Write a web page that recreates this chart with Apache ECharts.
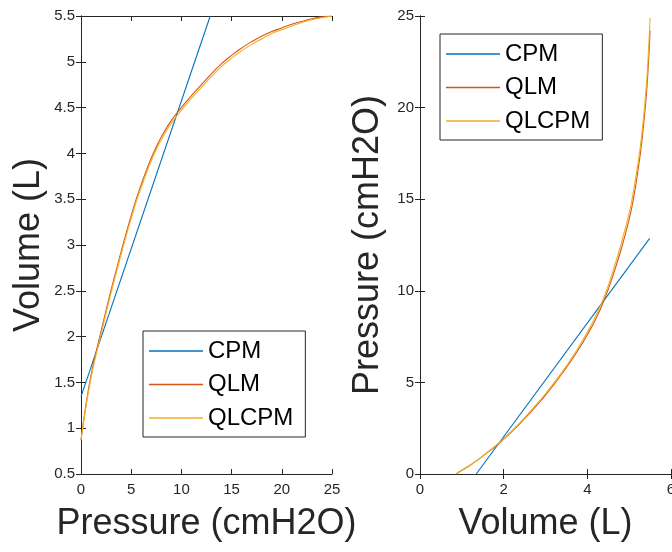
<!DOCTYPE html>
<html>
<head>
<meta charset="utf-8">
<script src="https://cdn.jsdelivr.net/npm/echarts@6/dist/echarts.min.js"></script>
<style>
html,body{margin:0;padding:0;background:#fff;}
#chart{width:672px;height:552px;}
</style>
</head>
<body>
<div id="chart"></div>
<script>
// ---- Left panel: Volume (L) vs Pressure (cmH2O)
var seriesNames = ['CPM', 'QLM', 'QLCPM'];
var leftXTicks = [0, 5, 10, 15, 20, 25];
var leftYTicks = [0.5, 1, 1.5, 2, 2.5, 3, 3.5, 4, 4.5, 5, 5.5];

var cpmLeftPressure = [0, 12.87];
var cpmLeftVolume = [1.344, 5.5];

var curveLeftPressure = [0, 0.5, 1, 1.5, 2, 2.5, 3, 3.5, 4, 4.5, 5, 5.5, 6, 6.5, 7, 7.5, 8, 9, 10, 11, 12, 13, 14, 15, 16, 17, 18, 19, 20, 21, 22, 23, 24, 25];
var qlmLeftVolume = [0.87, 1.26, 1.58, 1.83, 2.06, 2.29, 2.51, 2.72, 2.93, 3.13, 3.32, 3.5, 3.66, 3.81, 3.95, 4.07, 4.18, 4.36, 4.5, 4.63, 4.75, 4.87, 4.98, 5.07, 5.15, 5.22, 5.28, 5.33, 5.37, 5.41, 5.44, 5.47, 5.49, 5.5];
var qlcpmLeftVolume = [0.87, 1.24, 1.55, 1.8, 2.03, 2.26, 2.48, 2.69, 2.9, 3.1, 3.29, 3.47, 3.63, 3.78, 3.92, 4.04, 4.15, 4.33, 4.47, 4.6, 4.72, 4.84, 4.95, 5.04, 5.12, 5.19, 5.25, 5.31, 5.35, 5.39, 5.43, 5.46, 5.48, 5.5];

// ---- Right panel: Pressure (cmH2O) vs Volume (L)
var rightXTicks = [0, 2, 4, 6];
var rightYTicks = [0, 5, 10, 15, 20, 25];

var cpmRightVolume = [1.345, 5.49];
var cpmRightPressure = [0, 12.86];

var curveRightVolume = [0.865, 1.0, 1.2, 1.4, 1.6, 1.8, 2.0, 2.2, 2.4, 2.6, 2.8, 3.0, 3.2, 3.4, 3.6, 3.8, 4.0, 4.2, 4.4, 4.6, 4.8, 5.0, 5.1, 5.2, 5.3, 5.4, 5.45, 5.5];
var qlmRightPressure = [0, 0.2, 0.48, 0.8, 1.15, 1.5, 1.9, 2.33, 2.78, 3.26, 3.77, 4.3, 4.88, 5.5, 6.14, 6.84, 7.6, 8.45, 9.48, 10.75, 12.2, 13.9, 15.0, 16.4, 18.1, 20.4, 22.0, 24.2];
var qlcpmRightPressure = [0, 0.2, 0.49, 0.81, 1.17, 1.53, 1.93, 2.37, 2.83, 3.32, 3.84, 4.38, 4.96, 5.58, 6.24, 6.96, 7.75, 8.62, 9.66, 10.98, 12.5, 14.25, 15.4, 16.8, 18.5, 20.9, 22.6, 24.9];

var colors = ['#0072BD', '#D95319', '#EDB120'];
var axisColor = '#262626';
var FONT = 'Liberation Sans, Arial, sans-serif';

function zip(xs, ys) { return xs.map(function (x, i) { return [x, ys[i]]; }); }

function mainX(grid, ticks, name) {
  return {
    type: 'value', gridIndex: grid, position: 'bottom',
    min: ticks[0], max: ticks[ticks.length - 1], interval: ticks[1] - ticks[0],
    axisLine: { show: true, lineStyle: { color: axisColor, width: 1 } },
    axisTick: { show: true, inside: true, length: 5, lineStyle: { color: axisColor } },
    splitLine: { show: false },
    axisLabel: { show: true, fontSize: 15, color: axisColor, margin: 8, fontFamily: FONT },
    name: name, nameLocation: 'middle', nameGap: 32,
    nameTextStyle: { fontSize: 36, color: axisColor, fontFamily: FONT }
  };
}
function mirrorX(grid, ticks) {
  return {
    type: 'value', gridIndex: grid, position: 'top',
    min: ticks[0], max: ticks[ticks.length - 1], interval: ticks[1] - ticks[0],
    axisLine: { show: true, lineStyle: { color: axisColor, width: 1 } },
    axisTick: { show: true, inside: true, length: 5, lineStyle: { color: axisColor } },
    splitLine: { show: false },
    axisLabel: { show: false }
  };
}
function mainY(grid, ticks, name) {
  return {
    type: 'value', gridIndex: grid, position: 'left',
    min: ticks[0], max: ticks[ticks.length - 1], interval: ticks[1] - ticks[0],
    axisLine: { show: true, lineStyle: { color: axisColor, width: 1 } },
    axisTick: { show: true, inside: true, length: 5, lineStyle: { color: axisColor } },
    splitLine: { show: false },
    axisLabel: { show: true, fontSize: 15, color: axisColor, margin: 6, fontFamily: FONT },
    name: name, nameLocation: 'middle', nameGap: 34,
    nameTextStyle: { fontSize: 36, color: axisColor, fontFamily: FONT }
  };
}
function mirrorY(grid, ticks) {
  return {
    type: 'value', gridIndex: grid, position: 'right',
    min: ticks[0], max: ticks[ticks.length - 1], interval: ticks[1] - ticks[0],
    axisLine: { show: true, lineStyle: { color: axisColor, width: 1 } },
    axisTick: { show: true, inside: true, length: 5, lineStyle: { color: axisColor } },
    splitLine: { show: false },
    axisLabel: { show: false }
  };
}
function lineSeries(name, color, xi, yi, data) {
  return {
    name: name, type: 'line', xAxisIndex: xi, yAxisIndex: yi,
    data: data, symbol: 'none', showSymbol: false, smooth: 0.5,
    clip: true,
    lineStyle: { color: color, width: 1.1 },
    itemStyle: { color: color },
    emphasis: { disabled: true }
  };
}
function legendAt(left, top) {
  return {
    orient: 'vertical', left: left, top: top,
    data: seriesNames,
    icon: 'rect',
    itemWidth: 54, itemHeight: 1.5, itemGap: 9.5,
    padding: [8, 12, 7, 6],
    borderColor: axisColor, borderWidth: 1, borderRadius: 0,
    backgroundColor: '#ffffff',
    textStyle: { fontSize: 24, color: '#000', fontFamily: FONT },
    selectedMode: false
  };
}

var chart = echarts.init(document.getElementById('chart'), null, { renderer: 'canvas' });
chart.setOption({
  animation: false,
  backgroundColor: '#ffffff',
  textStyle: { fontFamily: FONT },
  grid: [
    { left: 81, top: 16, width: 251, height: 458, containLabel: false, outerBoundsMode: 'none' },
    { left: 420, top: 16, width: 251, height: 458, containLabel: false, outerBoundsMode: 'none' }
  ],
  xAxis: [
    mainX(0, leftXTicks, 'Pressure (cmH2O)'),
    mirrorX(0, leftXTicks),
    mainX(1, rightXTicks, 'Volume (L)'),
    mirrorX(1, rightXTicks)
  ],
  yAxis: [
    mainY(0, leftYTicks, 'Volume (L)'),
    mirrorY(0, leftYTicks),
    mainY(1, rightYTicks, 'Pressure (cmH2O)'),
    mirrorY(1, rightYTicks)
  ],
  legend: [legendAt(143, 331), legendAt(440, 34)],
  series: [
    lineSeries('CPM', colors[0], 0, 0, zip(cpmLeftPressure, cpmLeftVolume)),
    lineSeries('QLM', colors[1], 0, 0, zip(curveLeftPressure, qlmLeftVolume)),
    lineSeries('QLCPM', colors[2], 0, 0, zip(curveLeftPressure, qlcpmLeftVolume)),
    lineSeries('CPM', colors[0], 2, 2, zip(cpmRightVolume, cpmRightPressure)),
    lineSeries('QLM', colors[1], 2, 2, zip(curveRightVolume, qlmRightPressure)),
    lineSeries('QLCPM', colors[2], 2, 2, zip(curveRightVolume, qlcpmRightPressure))
  ]
});
</script>
</body>
</html>
